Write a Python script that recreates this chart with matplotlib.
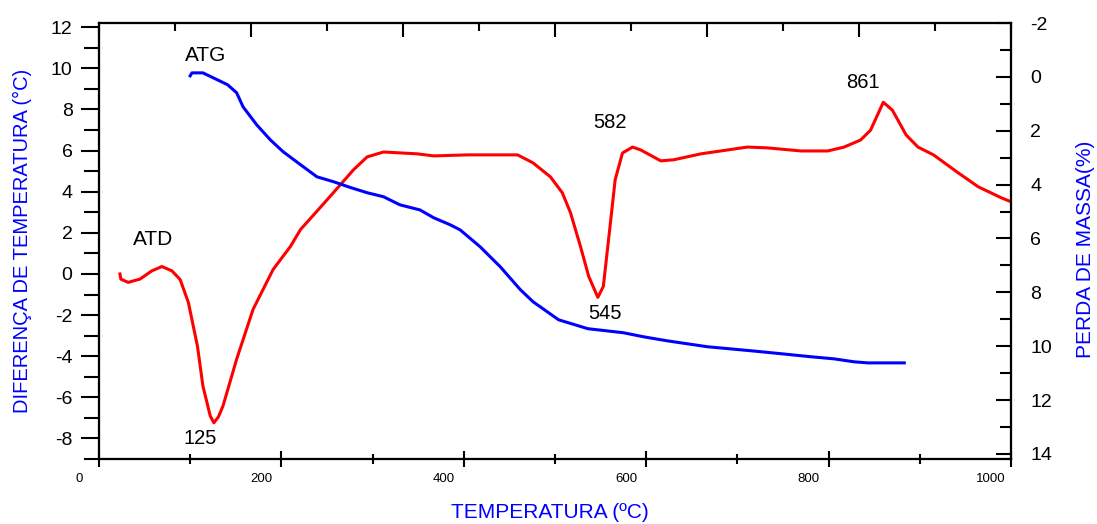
import matplotlib
matplotlib.use("Agg")
import matplotlib.pyplot as plt
import matplotlib.transforms as mtransforms
from matplotlib.ticker import MultipleLocator

plt.rcParams['font.family'] = ['Liberation Sans', 'DejaVu Sans']
plt.rcParams['axes.unicode_minus'] = False

# ATD curve (left axis, temperature difference in C)
atd_t = [23, 24, 32, 45, 58, 69, 80, 89, 98, 108, 114, 122, 126, 131, 136, 151,
         169, 191, 210, 221, 240, 257, 279, 294, 312, 349, 367, 404, 440, 459,
         476, 495, 508, 517, 528, 537, 547, 553, 560, 566, 574, 585, 594, 616,
         630, 660, 711, 733, 770, 799, 817, 835, 846, 860, 870, 885, 898, 915,
         942, 964, 989, 1000]
atd_dt = [0.0, -0.25, -0.41, -0.25, 0.15, 0.36, 0.15, -0.27, -1.38, -3.51, -5.45,
          -6.9, -7.24, -6.95, -6.42, -4.14, -1.72, 0.22, 1.34, 2.16, 3.1, 3.95,
          5.06, 5.69, 5.93, 5.84, 5.74, 5.79, 5.79, 5.79, 5.4, 4.72, 3.95, 2.98,
          1.33, -0.12, -1.14, -0.61, 2.16, 4.58, 5.88, 6.17, 6.03, 5.5, 5.55,
          5.84, 6.17, 6.13, 5.98, 5.98, 6.17, 6.51, 6.99, 8.35, 7.96, 6.76, 6.17,
          5.79, 4.92, 4.24, 3.71, 3.51]

# ATG curve (right axis, mass loss %)
atg_t = [100, 102, 114, 130, 141, 151, 158, 173, 188, 202, 221, 239, 257, 276,
         294, 312, 330, 352, 367, 385, 396, 418, 440, 462, 476, 504, 536, 575,
         597, 623, 667, 715, 748, 780, 806, 828, 843, 883]
atg_loss = [-0.04, -0.15, -0.15, 0.11, 0.29, 0.59, 1.11, 1.78, 2.34, 2.78, 3.26,
            3.71, 3.89, 4.11, 4.30, 4.45, 4.75, 4.94, 5.23, 5.49, 5.68, 6.31,
            7.05, 7.90, 8.35, 9.02, 9.35, 9.50, 9.65, 9.80, 10.02, 10.17, 10.28,
            10.39, 10.47, 10.58, 10.62, 10.62]

# peak labels
peak_labels = ['125', '545', '582', '861']
peak_x = [111, 555, 560, 838]
peak_y = [-8.0, -1.92, 7.34, 9.32]

fig = plt.figure(figsize=(10.97, 5.24), dpi=100)
ax = fig.add_axes([0.0902, 0.124, 0.8314, 0.832])
ax2 = ax.twinx()
ax3 = ax.twiny()

ax.plot(atd_t, atd_dt, color='#ff0000', lw=2.2, zorder=3)
ax2.plot(atg_t, atg_loss, color='#0000ff', lw=2.2)

ax.set_xlim(0, 1000)
ax.set_ylim(-9, 12.2)
ax2.set_ylim(14.19, -2)
ax3.set_xlim(0, 1200)

for a in (ax, ax2, ax3):
    for s in a.spines.values():
        s.set_linewidth(1.5)

# bottom axis
ax.set_xticks([0, 200, 400, 600, 800, 1000])
ax.xaxis.set_minor_locator(MultipleLocator(100))
ax.tick_params(axis='x', which='major', direction='inout', length=12, width=1.5,
               labelsize=9.5, pad=4, top=False)
ax.tick_params(axis='x', which='minor', direction='inout', length=7, width=1.5, top=False)
offset = mtransforms.ScaledTranslation(-20 / 100, 0, fig.dpi_scale_trans)
for lbl in ax.get_xticklabels():
    lbl.set_transform(lbl.get_transform() + offset)

# left axis
ax.set_yticks([-8, -6, -4, -2, 0, 2, 4, 6, 8, 10, 12])
ax.yaxis.set_minor_locator(MultipleLocator(1))
ax.tick_params(axis='y', which='major', direction='out', length=13, width=1.5,
               labelsize=14, pad=6)
ax.tick_params(axis='y', which='minor', direction='out', length=11, width=1.5)

# right axis
ax2.set_yticks([-2, 0, 2, 4, 6, 8, 10, 12, 14])
ax2.yaxis.set_minor_locator(MultipleLocator(1))
ax2.tick_params(axis='y', which='major', direction='in', length=11, width=1.5,
                labelsize=14, pad=14)
ax2.tick_params(axis='y', which='minor', direction='in', length=8, width=1.5)

# top axis (ticks only)
ax3.xaxis.set_major_locator(MultipleLocator(200))
ax3.xaxis.set_minor_locator(MultipleLocator(100))
ax3.tick_params(axis='x', which='major', direction='in', length=10, width=1.5,
                labeltop=False)
ax3.tick_params(axis='x', which='minor', direction='in', length=6, width=1.5)

ax.set_xlabel('TEMPERATURA (ºC)', color='#0000ff', fontsize=15)
ax.xaxis.set_label_coords(0.494, -0.101)
ax.set_ylabel('DIFERENÇA DE TEMPERATURA (°C)', color='#0000ff', fontsize=14.5)
ax.yaxis.set_label_coords(-0.073, 0.5)
ax2.set_ylabel('PERDA DE MASSA(%)', color='#0000ff', fontsize=15)
ax2.yaxis.set_label_coords(1.071, 0.48)

ax.text(94, 10.63, 'ATG', fontsize=15, ha='left', va='center')
ax.text(37, 1.68, 'ATD', fontsize=15, ha='left', va='center')
for lab, px, py in zip(peak_labels, peak_x, peak_y):
    ax.text(px, py, lab, fontsize=14.5, ha='center', va='center')

fig.savefig('out.png', dpi=100)
